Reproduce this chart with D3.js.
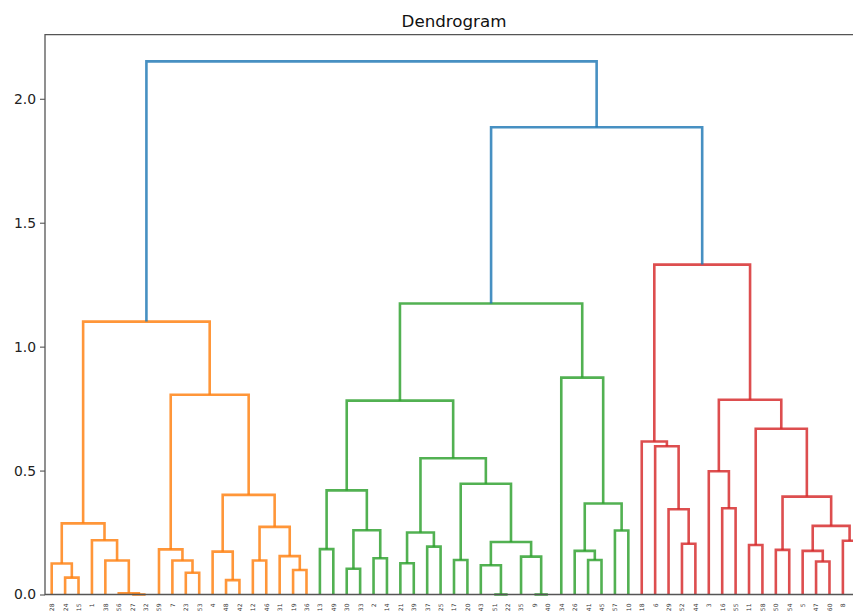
<!DOCTYPE html>
<html>
<head>
<meta charset="utf-8">
<script src="https://cdn.jsdelivr.net/npm/d3@7"></script>
<style>
body { margin: 0; background: #fff; }
text { font-family: 'DejaVu Sans', sans-serif; }
</style>
</head>
<body>
<script>
// leaf labels in dendrogram order (left to right)
var leafLabels = [28,24,15,1,38,56,27,32,59,7,23,53,4,48,42,12,46,31,19,36,
	13,49,30,33,2,14,21,39,37,25,17,20,43,51,22,35,9,40,34,26,41,45,57,10,
	18,6,29,52,44,3,16,55,11,58,50,54,5,47,60,8,0]

// linkage: node 61+k joins mergeA[k] and mergeB[k] at mergeH[k]
var mergeA = [1,0,6,5,4,3,62,10,9,8,13,12,15,18,17,73,72,70,67,
	20,22,24,81,80,26,28,85,30,33,32,36,35,90,88,87,84,40,39,42,98,38,96,
	47,46,45,44,50,49,52,54,57,56,59,112,110,109,108,106,102,79]
var mergeB = [2,61,7,63,64,65,66,11,68,69,14,71,16,19,74,75,76,77,78,
	21,23,25,82,83,27,29,86,31,34,89,37,91,92,93,94,95,41,97,43,99,100,101,
	48,103,104,105,51,107,53,55,58,111,60,113,114,115,116,117,118,119]
var mergeH = [0.068,0.125,0.0,0.005,0.137,0.219,0.287,0.088,0.137,0.182,0.058,0.173,0.137,0.099,0.155,0.273,0.402,0.806,1.101,
	0.183,0.104,0.146,0.259,0.420,0.126,0.193,0.250,0.139,0.0,0.118,0.0,0.153,0.212,0.447,0.550,0.782,0.139,0.176,0.258,0.367,0.875,1.174,
	0.205,0.344,0.598,0.617,0.348,0.497,0.200,0.180,0.133,0.176,0.217,0.277,0.395,0.669,0.786,1.331,1.885,2.151]

var clusterColors = ['#ff7f0e','#2ca02c','#d62728']
var aboveColor = '#1f77b4'

var width = 853,
	height = 616,
	margin = {top:34.7, left:45, right:-10, bottom:21.5};

var n = leafLabels.length
var maxH = d3.max(mergeH)
var threshold = 0.7*maxH

var svg = d3.select('body')
	.append('svg')
	.attr('width',width)
	.attr('height',height)

var escalaX = d3.scaleLinear()
	.domain([0,n*10])
	.range([margin.left,width-margin.right])

var escalaY = d3.scaleLinear()
	.domain([0,maxH*1.05])
	.range([height-margin.bottom,margin.top])

// node positions in data units
var nodeX = [], nodeH = []
leafLabels.forEach((d,i)=>{ nodeX[i] = i*10+5; nodeH[i] = 0 })
mergeA.forEach((a,k)=>{
	nodeX[n+k] = (nodeX[a]+nodeX[mergeB[k]])/2
	nodeH[n+k] = mergeH[k]
})

// colour each link: below threshold takes its cluster colour
var linkColor = []
var nextColor = 0
function paint(id,col) {
	if (id<n) return
	var k = id-n
	if (col==null && mergeH[k]<threshold) col = clusterColors[nextColor++]
	linkColor[k] = col==null ? aboveColor : col
	paint(mergeA[k],col)
	paint(mergeB[k],col)
}
paint(n+mergeA.length-1,null)

var links = mergeA.map((a,k)=>({a:a,b:mergeB[k],h:mergeH[k],color:linkColor[k]}))

var y0 = escalaY.range()[0], y1 = escalaY.range()[1]
var xl = escalaX.range()[0], xr = escalaX.range()[1]

svg.append('g')
	.selectAll('path')
	.data(links).enter()
	.append('path')
	.attr('d',d=>'M'+escalaX(nodeX[d.a])+','+escalaY(nodeH[d.a])
		+'V'+escalaY(d.h)+'H'+escalaX(nodeX[d.b])+'V'+escalaY(nodeH[d.b]))
	.attr('fill','none')
	.attr('stroke',d=>d.color)
	.attr('stroke-opacity',0.82)
	.attr('stroke-width',2.6)

// frame (right spine is past the picture edge)
svg.append('path')
	.attr('d','M'+xr+','+y0+'H'+xl+'V'+y1+'H'+xr)
	.attr('fill','none')
	.attr('stroke','#555')
	.attr('stroke-width',1.3)

var ejeY = d3.axisLeft(escalaY)
	.tickValues([0,0.5,1,1.5,2])
	.tickFormat(d3.format('.1f'))
	.tickSize(5)
	.tickPadding(4)

var gy = svg.append('g')
	.attr('transform','translate('+xl+',0)')
	.call(ejeY)
gy.select('.domain').remove()
gy.selectAll('line').attr('stroke','#555').attr('stroke-width',1.1)
gy.selectAll('text')
	.attr('font-family','DejaVu Sans')
	.attr('font-size',13.9)
	.attr('fill','#222')

var ejeX = d3.axisBottom(escalaX)
	.tickValues(leafLabels.map((d,i)=>i*10+5))
	.tickFormat((d,i)=>leafLabels[i])
	.tickSize(0)

var gx = svg.append('g')
	.attr('transform','translate(0,'+y0+')')
	.call(ejeX)
gx.select('.domain').remove()
gx.selectAll('text')
	.attr('font-family','DejaVu Sans')
	.attr('font-size',6)
	.attr('fill','#333')
	.attr('text-anchor','end')
	.attr('dy','0.32em')
	.attr('y',0)
	.attr('transform','translate(0,9) rotate(-90)')

svg.append('text')
	.attr('x',(45+863)/2)
	.attr('y',26.5)
	.attr('text-anchor','middle')
	.attr('font-size',16.7)
	.attr('fill','#111')
	.text('Dendrogram')
</script>
</body>
</html>
